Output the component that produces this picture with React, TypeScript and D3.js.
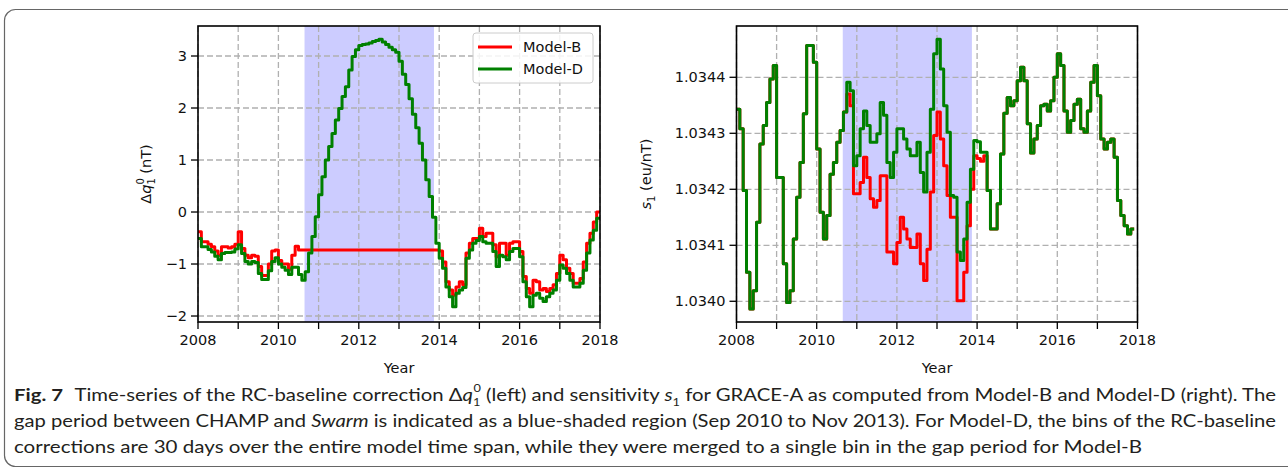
import React from 'react';
import * as d3 from 'd3';

// ---------- data ----------
const START_YEAR = 2008;
const BIN_YEARS = 1 / 12; // ~30-day bins
const GAP_START = 2010.65; // Sep 2010
const GAP_END = 2013.87; // Nov 2013

const yearTicks = [2008, 2009, 2010, 2011, 2012, 2013, 2014, 2015, 2016, 2017, 2018];
const yearLabels = [2008, 2010, 2012, 2014, 2016, 2018];
const leftTicks = [-2, -1, 0, 1, 2, 3];
const rightTicks = [1.034, 1.0341, 1.0342, 1.0343, 1.0344];
const seriesNames = ['Model-B', 'Model-D'];

// Δq1^0 (nT)
const leftModelB = [
  -0.38, -0.57, -0.57, -0.62, -0.67, -0.75, -0.83, -0.67, -0.67, -0.69, -0.67, -0.62,
  -0.38, -0.70, -0.83, -0.88, -0.83, -0.85, -1.05, -1.22, -1.22, -1.00, -0.75, -0.73,
  -0.93, -1.00, -1.00, -1.10, -0.83, -0.66, -0.73, -0.73,
  -0.73, -0.73, -0.73, -0.73, -0.73, -0.73, -0.73, -0.73, -0.73, -0.73, -0.73, -0.73,
  -0.73, -0.73, -0.73, -0.73, -0.73, -0.73, -0.73, -0.73, -0.73, -0.73, -0.73, -0.73,
  -0.73, -0.73, -0.73, -0.73, -0.73, -0.73, -0.73, -0.73, -0.73, -0.73, -0.73, -0.73,
  -0.73, -0.73, -0.73, -0.73,
  -0.75, -0.96, -1.34, -1.50, -1.60, -1.44, -1.34, -1.40, -0.79, -0.60, -0.51, -0.51,
  -0.31, -0.47, -0.41, -0.41, -0.63, -0.86, -0.60, -0.60, -0.83, -0.60, -0.57, -0.57,
  -0.76, -1.24, -1.47, -1.56, -1.31, -1.34, -1.50, -1.47, -1.53, -1.47, -1.40, -1.18,
  -0.83, -0.92, -1.08, -1.18, -1.37, -1.37, -1.28, -0.96, -0.60, -0.41, -0.19, 0.00,
];
const leftModelD = [
  -0.51, -0.67, -0.67, -0.72, -0.77, -0.85, -0.92, -0.80, -0.78, -0.78, -0.77, -0.71,
  -0.63, -0.80, -0.95, -1.00, -0.95, -0.97, -1.18, -1.30, -1.30, -1.13, -0.95, -0.88,
  -1.00, -1.06, -1.12, -1.20, -1.06, -1.06, -1.20, -1.31,
  -1.15, -0.79, -0.47, -0.09, 0.33, 0.68, 1.00, 1.26, 1.51, 1.77, 1.99, 2.22,
  2.41, 2.73, 2.99, 3.12, 3.20, 3.22, 3.23, 3.25, 3.28, 3.30, 3.32, 3.27,
  3.22, 3.17, 3.12, 3.07, 2.90, 2.65, 2.45, 2.18, 1.88, 1.62, 1.32, 1.00,
  0.62, 0.30, -0.10, -0.60,
  -0.89, -1.08, -1.44, -1.63, -1.82, -1.56, -1.50, -1.45, -0.89, -0.73, -0.60, -0.55,
  -0.47, -0.57, -0.60, -0.60, -0.76, -1.05, -0.83, -0.86, -0.92, -0.76, -0.70, -0.70,
  -0.86, -1.34, -1.63, -1.82, -1.60, -1.56, -1.66, -1.72, -1.63, -1.56, -1.50, -1.31,
  -1.02, -1.08, -1.18, -1.31, -1.44, -1.44, -1.37, -1.12, -0.79, -0.54, -0.35, -0.12,
];

// s1 (eu/nT)
const rightModelD = [
  1.034343, 1.034308, 1.034198, 1.034052, 1.033986, 1.034019, 1.034141, 1.034281, 1.034314, 1.034355,
  1.034397, 1.034421, 1.034221, 1.034221, 1.034067, 1.033998, 1.034019, 1.034111, 1.034186, 1.034248,
  1.034335, 1.034457, 1.034457, 1.034427, 1.034272, 1.034159, 1.034111, 1.034153, 1.034227, 1.034248,
  1.034284, 1.034305, 1.034338, 1.034391, 1.034376, 1.034242, 1.034260, 1.034308, 1.034340, 1.034314,
  1.034284, 1.034284, 1.034299, 1.034355, 1.034332, 1.034248, 1.034221, 1.034266, 1.034308, 1.034308,
  1.034290, 1.034272, 1.034260, 1.034260, 1.034284, 1.034230, 1.034195, 1.034266, 1.034343, 1.034442,
  1.034468, 1.034415, 1.034349, 1.034302, 1.034189, 1.034186, 1.034088, 1.034073, 1.034111, 1.034177,
  1.034236, 1.034287, 1.034285, 1.034266, 1.034266, 1.034198, 1.034129, 1.034129, 1.034174, 1.034263,
  1.034336, 1.034364, 1.034349, 1.034358, 1.034394, 1.034418, 1.034394, 1.034317, 1.034265, 1.034290,
  1.034314, 1.034349, 1.034352, 1.034340, 1.034358, 1.034400, 1.034442, 1.034421, 1.034340, 1.034302,
  1.034323, 1.034352, 1.034361, 1.034308, 1.034302, 1.034340, 1.034391, 1.034421, 1.034367, 1.034290,
  1.034272, 1.034284, 1.034290, 1.034257, 1.034180, 1.034153, 1.034135, 1.034120, 1.034129,
];
const rightModelB = [
  1.034343, 1.034308, 1.034198, 1.034052, 1.033986, 1.034019, 1.034141, 1.034281, 1.034314, 1.034355,
  1.034397, 1.034421, 1.034221, 1.034221, 1.034067, 1.033998, 1.034019, 1.034111, 1.034186, 1.034248,
  1.034335, 1.034457, 1.034457, 1.034427, 1.034272, 1.034159, 1.034111, 1.034153, 1.034227, 1.034248,
  1.034284, 1.034305, 1.034338, 1.034370, 1.034349, 1.034192, 1.034192, 1.034212, 1.034257, 1.034221,
  1.034183, 1.034168, 1.034180, 1.034224, 1.034224, 1.034088, 1.034088, 1.034067, 1.034105, 1.034150,
  1.034129, 1.034111, 1.034096, 1.034096, 1.034120, 1.034067, 1.034037, 1.034093, 1.034195, 1.034296,
  1.034338, 1.034290, 1.034242, 1.034189, 1.034150, 1.034150, 1.034001, 1.034001, 1.034052, 1.034135,
  1.034200, 1.034260, 1.034255, 1.034250, 1.034260, 1.034198, 1.034129, 1.034129, 1.034174, 1.034263,
  1.034336, 1.034364, 1.034349, 1.034358, 1.034394, 1.034418, 1.034394, 1.034317, 1.034265, 1.034290,
  1.034314, 1.034349, 1.034352, 1.034340, 1.034358, 1.034400, 1.034442, 1.034421, 1.034340, 1.034302,
  1.034323, 1.034352, 1.034361, 1.034308, 1.034302, 1.034340, 1.034391, 1.034421, 1.034367, 1.034290,
  1.034272, 1.034284, 1.034290, 1.034257, 1.034180, 1.034153, 1.034135, 1.034120, 1.034129,
];

// ---------- styles ----------
const RED = '#ff0000';
const GREEN = '#008000';
const SHADE = '#ccccff';
const GRID = '#b0b0b0';
const FONT = 'DejaVu Sans';
const FS = 14.5;

type Pt = [number, number];
const toSteps = (vals: number[]): Pt[] => {
  const pts: Pt[] = vals.map((v, i) => [START_YEAR + i * BIN_YEARS, v]);
  pts.push([START_YEAR + vals.length * BIN_YEARS, vals[vals.length - 1]]);
  return pts;
};

interface PanelProps {
  id: string;
  left: number;
  right: number;
  top: number;
  bottom: number;
  yDomain: [number, number];
  yTicks: number[];
  yFmt: (v: number) => string;
  seriesB: number[];
  seriesD: number[];
  yLabel: React.ReactNode;
  yLabelX: number;
  legend?: boolean;
}

function Panel(p: PanelProps) {
  const x = d3.scaleLinear().domain([2008, 2018]).range([p.left, p.right]);
  const y = d3.scaleLinear().domain(p.yDomain).range([p.bottom, p.top]);
  const line = d3
    .line<Pt>()
    .x((d) => x(d[0]))
    .y((d) => y(d[1]))
    .curve(d3.curveStepAfter);
  const midX = (p.left + p.right) / 2;
  const midY = (p.top + p.bottom) / 2;
  const tickLen = 7;
  return (
    <g>
      <defs>
        <clipPath id={`clip-${p.id}`}>
          <rect x={p.left} y={p.top} width={p.right - p.left} height={p.bottom - p.top} />
        </clipPath>
      </defs>
      <rect x={p.left} y={p.top} width={p.right - p.left} height={p.bottom - p.top} fill="#fff" />
      <rect
        x={x(GAP_START)}
        y={p.top}
        width={x(GAP_END) - x(GAP_START)}
        height={p.bottom - p.top}
        fill={SHADE}
      />
      {yearTicks.map((t) => (
        <line
          key={`gx${t}`}
          x1={x(t)}
          x2={x(t)}
          y1={p.top}
          y2={p.bottom}
          stroke={GRID}
          strokeWidth={1.3}
          strokeDasharray="6,3"
        />
      ))}
      {p.yTicks.map((t) => (
        <line
          key={`gy${t}`}
          x1={p.left}
          x2={p.right}
          y1={y(t)}
          y2={y(t)}
          stroke={GRID}
          strokeWidth={1.3}
          strokeDasharray="6,3"
        />
      ))}
      <g clipPath={`url(#clip-${p.id})`}>
        <path d={line(toSteps(p.seriesB)) || ''} fill="none" stroke={RED} strokeWidth={3} strokeLinejoin="round" />
        <path d={line(toSteps(p.seriesD)) || ''} fill="none" stroke={GREEN} strokeWidth={3} strokeLinejoin="round" />
      </g>
      <rect
        x={p.left}
        y={p.top}
        width={p.right - p.left}
        height={p.bottom - p.top}
        fill="none"
        stroke="#000"
        strokeWidth={1.6}
      />
      {yearTicks.map((t) => (
        <line key={`tx${t}`} x1={x(t)} x2={x(t)} y1={p.bottom} y2={p.bottom + tickLen} stroke="#000" strokeWidth={1.3} />
      ))}
      {yearLabels.map((t) => (
        <text
          key={`lx${t}`}
          x={x(t)}
          y={p.bottom + 23}
          textAnchor="middle"
          fontFamily={FONT}
          fontSize={FS}
          fill="#111"
        >
          {t}
        </text>
      ))}
      {p.yTicks.map((t) => (
        <g key={`ty${t}`}>
          <line x1={p.left - tickLen} x2={p.left} y1={y(t)} y2={y(t)} stroke="#000" strokeWidth={1.3} />
          <text
            x={p.left - tickLen - 4}
            y={y(t) + 5}
            textAnchor="end"
            fontFamily={FONT}
            fontSize={FS}
            fill="#111"
          >
            {p.yFmt(t)}
          </text>
        </g>
      ))}
      <text x={midX} y={p.bottom + 51} textAnchor="middle" fontFamily={FONT} fontSize={FS} fill="#111">
        Year
      </text>
      <text
        transform={`translate(${p.yLabelX},${midY}) rotate(-90)`}
        textAnchor="middle"
        fontFamily={FONT}
        fontSize={FS}
        fill="#111"
      >
        {p.yLabel}
      </text>
      {p.legend && (
        <g>
          <rect x={473} y={33} width={120} height={50} rx={3} fill="#fff" fillOpacity={0.85} stroke="#cccccc" />
          {seriesNames.map((name, i) => (
            <g key={name}>
              <line
                x1={478}
                x2={512}
                y1={47 + i * 22}
                y2={47 + i * 22}
                stroke={i === 0 ? RED : GREEN}
                strokeWidth={3}
              />
              <text x={523} y={47 + i * 22 + 5} fontFamily={FONT} fontSize={FS} fill="#111">
                {name}
              </text>
            </g>
          ))}
        </g>
      )}
    </g>
  );
}

const fmtLeft = (v: number) => (v < 0 ? `\u2212${Math.abs(v)}` : `${v}`);
const fmtRight = (v: number) => v.toFixed(4);

export default function App() {
  const capFont = 'Lato';
  const capSize = 17.5;
  const capColor = '#231f20';
  return (
    <svg
      width={1288}
      height={469}
      style={{ position: 'absolute', left: 0, top: 0, background: '#fff' }}
      xmlns="http://www.w3.org/2000/svg"
    >
      <rect x={0} y={0} width={1288} height={469} fill="#fff" />
      <rect x={4.5} y={9.5} width={1320} height={457} rx={11} fill="none" stroke="#666" strokeWidth={1.2} />
      <Panel
        id="left"
        left={198}
        right={600}
        top={26}
        bottom={322}
        yDomain={[-2.115, 3.577]}
        yTicks={leftTicks}
        yFmt={fmtLeft}
        seriesB={leftModelB}
        seriesD={leftModelD}
        yLabelX={151}
        legend
        yLabel={
          <>
            {'\u0394'}
            <tspan fontStyle="italic">q</tspan>
            <tspan fontSize={10} dy={4}>1</tspan>
            <tspan fontSize={10} dx={-6.4} dy={-11}>0</tspan>
            <tspan dy={7}>{' (nT)'}</tspan>
          </>
        }
      />
      <Panel
        id="right"
        left={736.5}
        right={1137.5}
        top={26}
        bottom={322}
        yDomain={[1.033963, 1.0344916]}
        yTicks={rightTicks}
        yFmt={fmtRight}
        seriesB={rightModelB}
        seriesD={rightModelD}
        yLabelX={651}
        yLabel={
          <>
            <tspan fontStyle="italic">s</tspan>
            <tspan fontSize={10} dy={4}>1</tspan>
            <tspan dy={-4}>{' (eu/nT)'}</tspan>
          </>
        }
      />
      <text
        x={14}
        y={401}
        fontFamily={capFont}
        fontSize={capSize}
        fill={capColor}
        textLength={1262}
        lengthAdjust="spacingAndGlyphs"
      >
        <tspan fontWeight="bold">Fig. 7</tspan>
        <tspan dx={6}>{' Time-series of the RC-baseline correction \u0394'}</tspan>
        <tspan fontStyle="italic">q</tspan>
        <tspan fontSize={11} dy={5}>1</tspan>
        <tspan fontSize={11} dx={-6} dy={-14}>0</tspan>
        <tspan dy={9}>{' (left) and sensitivity '}</tspan>
        <tspan fontStyle="italic">s</tspan>
        <tspan fontSize={11} dy={5}>1</tspan>
        <tspan dy={-5}>{' for GRACE-A as computed from Model-B and Model-D (right). The'}</tspan>
      </text>
      <text
        x={14}
        y={427}
        fontFamily={capFont}
        fontSize={capSize}
        fill={capColor}
        textLength={1262}
        lengthAdjust="spacingAndGlyphs"
      >
        <tspan>{'gap period between CHAMP and '}</tspan>
        <tspan fontStyle="italic">Swarm</tspan>
        <tspan>
          {' is indicated as a blue-shaded region (Sep 2010 to Nov 2013). For Model-D, the bins of the RC-baseline'}
        </tspan>
      </text>
      <text
        x={14}
        y={453}
        fontFamily={capFont}
        fontSize={capSize}
        fill={capColor}
        textLength={1128}
        lengthAdjust="spacingAndGlyphs"
      >
        corrections are 30 days over the entire model time span, while they were merged to a single bin in the gap period for Model-B
      </text>
    </svg>
  );
}
